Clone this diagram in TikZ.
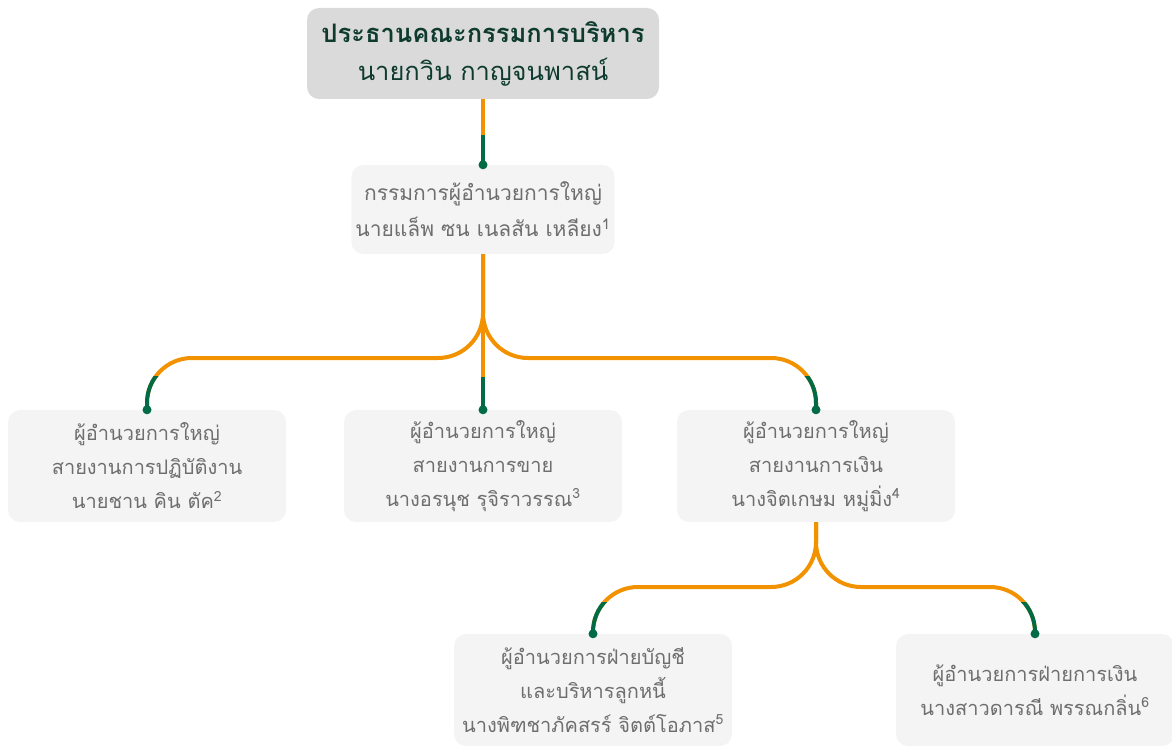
\documentclass[tikz,border=0pt]{standalone}
\usepackage{fontspec}
\newfontfamily\thaifont[Script=Thai]{Loma}
\definecolor{topgray}{HTML}{DADADA}
\definecolor{boxgray}{HTML}{F4F4F4}
\definecolor{darkgreen}{HTML}{0E3B2E}
\definecolor{textgray}{HTML}{6E6E6E}
\definecolor{lineorange}{HTML}{F39200}
\definecolor{linegreen}{HTML}{006B45}

\begin{document}
\begin{tikzpicture}[x=1pt,y=-1pt]
\tikzset{boss/.style={fill=topgray, rounded corners=12pt, text=darkgreen, align=center, minimum width=352pt, minimum height=91pt, font=\thaifont\fontsize{25.5pt}{38pt}\selectfont}}
\tikzset{box/.style={fill=boxgray, rounded corners=12pt, text=textgray, align=center, minimum width=278pt, minimum height=112pt, font=\thaifont\fontsize{20pt}{34pt}\selectfont}}
\tikzset{oline/.style={draw=lineorange, line width=4pt}}
\tikzset{gline/.style={draw=linegreen, line width=4pt}}
\useasboundingbox (0,0) rectangle (1172,746);
\node[boss] (B0) at (483,53.5) {\textbf{ประธานคณะกรรมการบริหาร}\\นายกวิน กาญจนพาสน์};
\node[box, minimum width=261pt, minimum height=89pt, inner xsep=4pt, font=\thaifont\fontsize{21pt}{36pt}\selectfont] (B1) at (483,209.5) {กรรมการผู้อำนวยการใหญ่\\นายแล็พ ซน เนลสัน เหลียง\textsuperscript{1}};
\node[box] (B2) at (147,466) {ผู้อำนวยการใหญ่\\สายงานการปฏิบัติงาน\\นายชาน คิน ตัค\textsuperscript{2}};
\node[box] (B3) at (483,466) {ผู้อำนวยการใหญ่\\สายงานการขาย\\นางอรนุช รุจิราวรรณ\textsuperscript{3}};
\node[box] (B4) at (816,466) {ผู้อำนวยการใหญ่\\สายงานการเงิน\\นางจิตเกษม หมู่มิ่ง\textsuperscript{4}};
\node[box] (B5) at (593,690) {ผู้อำนวยการฝ่ายบัญชี\\และบริหารลูกหนี้\\นางพิฑชาภัคสรร์ จิตต์โอภาส\textsuperscript{5}};
\node[box] (B6) at (1035,690) {ผู้อำนวยการฝ่ายการเงิน\\นางสาวดารณี พรรณกลิ่น\textsuperscript{6}};
\coordinate (J1) at (483,358);
\coordinate (J2) at (816,587);
\draw[oline] (B0.south) -- (B1.north);
\draw[gline] ([yshift=30pt]B1.north) -- (B1.north);
\draw[oline, rounded corners=45pt] (B1.south) -- (J1) -| (B2.north);
\draw[oline, rounded corners=45pt] (B1.south) -- (J1) -| (B4.north);
\draw[oline] (B1.south) -- (B3.north);
\draw[gline] ([yshift=33pt]B3.north) -- (B3.north);
\begin{scope}
\clip ([xshift=-60pt,yshift=33pt]B2.north) rectangle ([xshift=60pt]B2.north);
\draw[gline, rounded corners=45pt] (B1.south) -- (J1) -| (B2.north);
\end{scope}
\begin{scope}
\clip ([xshift=-60pt,yshift=33pt]B4.north) rectangle ([xshift=60pt]B4.north);
\draw[gline, rounded corners=45pt] (B1.south) -- (J1) -| (B4.north);
\end{scope}
\draw[oline, rounded corners=45pt] (B4.south) -- (J2) -| (B5.north);
\draw[oline, rounded corners=45pt] (B4.south) -- (J2) -| (B6.north);
\begin{scope}
\clip ([xshift=-60pt,yshift=31pt]B5.north) rectangle ([xshift=60pt]B5.north);
\draw[gline, rounded corners=45pt] (B4.south) -- (J2) -| (B5.north);
\end{scope}
\begin{scope}
\clip ([xshift=-60pt,yshift=31pt]B6.north) rectangle ([xshift=60pt]B6.north);
\draw[gline, rounded corners=45pt] (B4.south) -- (J2) -| (B6.north);
\end{scope}
\fill[linegreen] (B1.north) circle (4.5pt);
\fill[linegreen] (B2.north) circle (4.5pt);
\fill[linegreen] (B3.north) circle (4.5pt);
\fill[linegreen] (B4.north) circle (4.5pt);
\fill[linegreen] (B5.north) circle (4.5pt);
\fill[linegreen] (B6.north) circle (4.5pt);
\end{tikzpicture}
\end{document}
